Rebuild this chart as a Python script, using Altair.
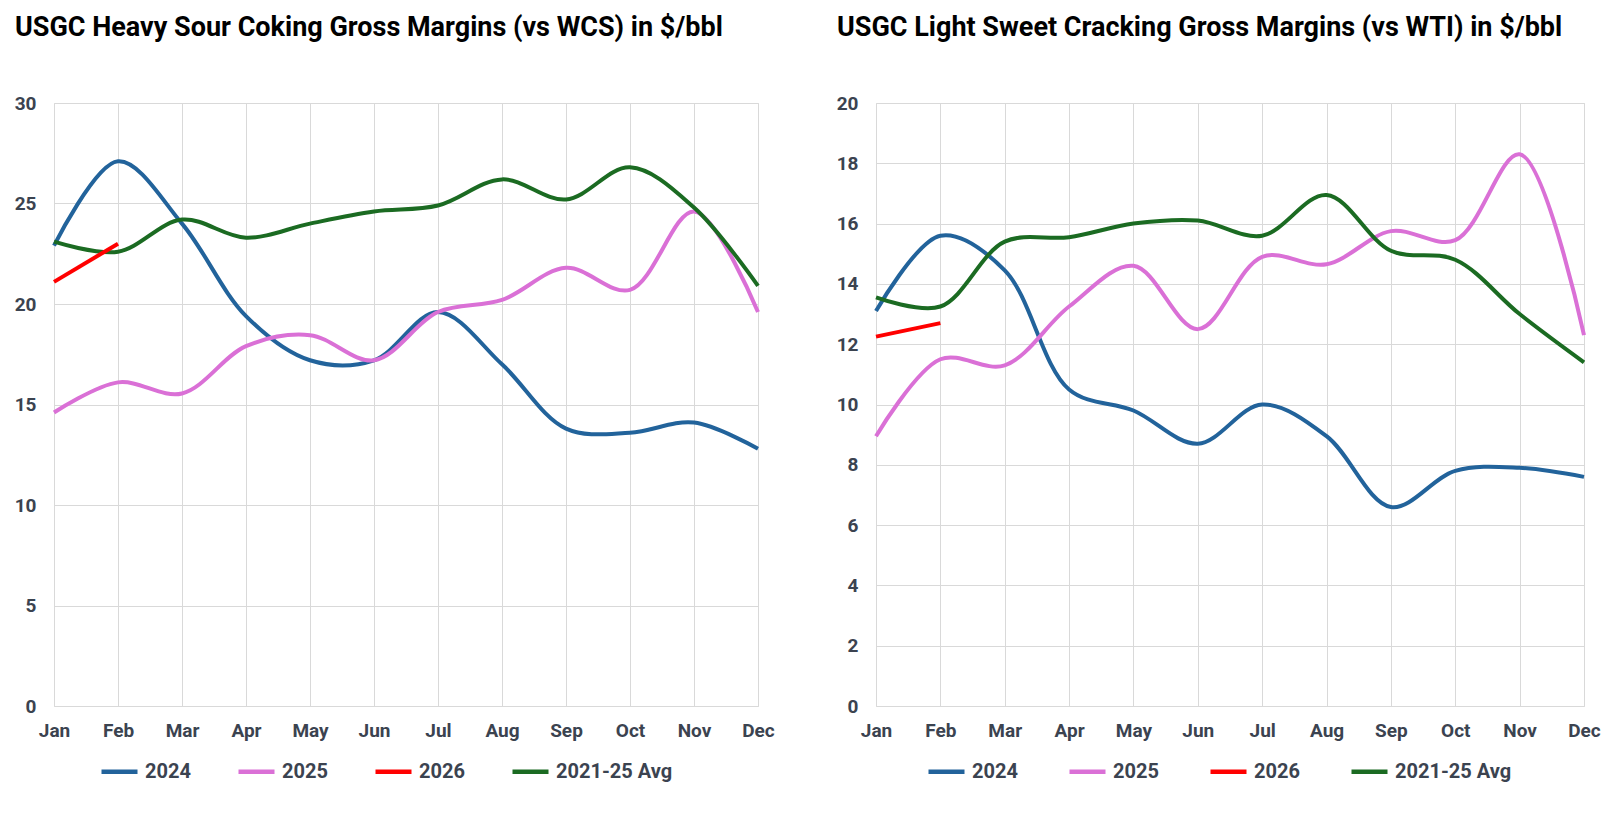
import altair as alt
import pandas as pd

months = ["Jan", "Feb", "Mar", "Apr", "May", "Jun", "Jul", "Aug", "Sep", "Oct", "Nov", "Dec"]
series_names = ["2024", "2025", "2026", "2021-25 Avg"]
series_colors = ["#22639B", "#DA70D6", "#FF0000", "#1B6B22"]
draw_order = ["2024", "2025", "2021-25 Avg", "2026"]

# USGC Heavy Sour Coking Gross Margins (vs WCS), $/bbl
hs_2024 = [22.9, 27.1, 24.0, 19.4, 17.2, 17.2, 19.6, 17.0, 13.8, 13.6, 14.1, 12.8]
hs_2025 = [14.6, 16.1, 15.55, 17.9, 18.45, 17.2, 19.6, 20.2, 21.8, 20.7, 24.6, 19.6]
hs_2026 = [21.1, 23.0]
hs_avg = [23.1, 22.6, 24.2, 23.3, 24.0, 24.6, 24.9, 26.2, 25.2, 26.8, 24.8, 20.9]

# USGC Light Sweet Cracking Gross Margins (vs WTI), $/bbl
ls_2024 = [13.1, 15.6, 14.45, 10.5, 9.8, 8.7, 10.0, 8.95, 6.6, 7.8, 7.9, 7.6]
ls_2025 = [8.95, 11.5, 11.3, 13.25, 14.6, 12.5, 14.9, 14.65, 15.75, 15.45, 18.3, 12.3]
ls_2026 = [12.25, 12.7]
ls_avg = [13.55, 13.25, 15.4, 15.55, 16.0, 16.1, 15.6, 16.95, 15.1, 14.8, 13.0, 11.4]

hs_ticks = [0, 5, 10, 15, 20, 25, 30]
ls_ticks = [0, 2, 4, 6, 8, 10, 12, 14, 16, 18, 20]

FONT = "Roboto"
LABEL_COLOR = "#3B4350"
GRID = "#D9D9D9"


def to_frame(s2024, s2025, s2026, savg):
    rows = []
    for name, vals in zip(series_names, [s2024, s2025, s2026, savg]):
        for m, v in zip(months, vals):
            rows.append({"Month": m, "Series": name, "Value": v})
    return pd.DataFrame(rows)


def panel(df, title, ymax, ticks, legend_x, legend_y, col_pad, width):
    base = alt.Chart(df)
    layers = []
    for i, name in enumerate(draw_order):
        show_legend = i == 0
        color_legend = alt.Legend(
            orient="none",
            legendX=legend_x,
            legendY=legend_y,
            direction="horizontal",
            columns=4,
            title=None,
            symbolType="stroke",
            symbolSize=1296,
            symbolStrokeWidth=4.5,
            labelFont=FONT,
            labelFontSize=20,
            labelFontWeight="bold",
            labelColor=LABEL_COLOR,
            labelOffset=5,
            columnPadding=col_pad,
            padding=0,
        ) if show_legend else None
        enc_color = alt.Color(
            "Series:N",
            scale=alt.Scale(domain=series_names, range=series_colors),
            legend=color_legend,
        )
        layers.append(
            base.transform_filter(alt.datum.Series == name)
            .mark_line(interpolate="catmull-rom", strokeWidth=4)
            .encode(
                x=alt.X(
                    "Month:N",
                    sort=months,
                    scale=alt.Scale(type="point", domain=months, padding=0),
                    axis=alt.Axis(
                        title=None,
                        labelAngle=0,
                        ticks=False,
                        domain=False,
                        grid=True,
                        gridColor=GRID,
                        labelFont=FONT,
                        labelFontSize=19,
                        labelFontWeight="bold",
                        labelColor=LABEL_COLOR,
                        labelPadding=15,
                    ),
                ),
                y=alt.Y(
                    "Value:Q",
                    scale=alt.Scale(domain=[0, ymax], nice=False, zero=True),
                    axis=alt.Axis(
                        title=None,
                        values=ticks,
                        ticks=False,
                        domain=False,
                        grid=True,
                        gridColor=GRID,
                        labelFont=FONT,
                        labelFontSize=19,
                        labelFontWeight="bold",
                        labelColor=LABEL_COLOR,
                        labelPadding=18,
                    ),
                ),
                color=enc_color,
            )
        )
    return alt.layer(*layers).properties(
        width=width,
        height=603,
        title=alt.TitleParams(
            text=title,
            anchor="start",
            frame="group",
            dx=-39,
            offset=52,
            font=FONT,
            fontSize=27,
            fontWeight="bold",
            color="#000000",
        ),
    )


hs_df = to_frame(hs_2024, hs_2025, hs_2026, hs_avg).dropna()
ls_df = to_frame(ls_2024, ls_2025, ls_2026, ls_avg).dropna()

left = panel(hs_df, "USGC Heavy Sour Coking Gross Margins (vs WCS) in $/bbl", 30, hs_ticks, 45, 648, 38, 704)
right = panel(ls_df, "USGC Light Sweet Cracking Gross Margins (vs WTI) in $/bbl", 20, ls_ticks, 50, 648, 42, 708)

chart = (
    alt.hconcat(left, right, spacing=118, bounds="flush")
    .resolve_scale(color="independent")
    .resolve_legend(color="independent")
    .configure_view(stroke=None)
    .configure(background="white")
)

chart.save("out.html", embed_options={"renderer": "svg", "actions": False})
